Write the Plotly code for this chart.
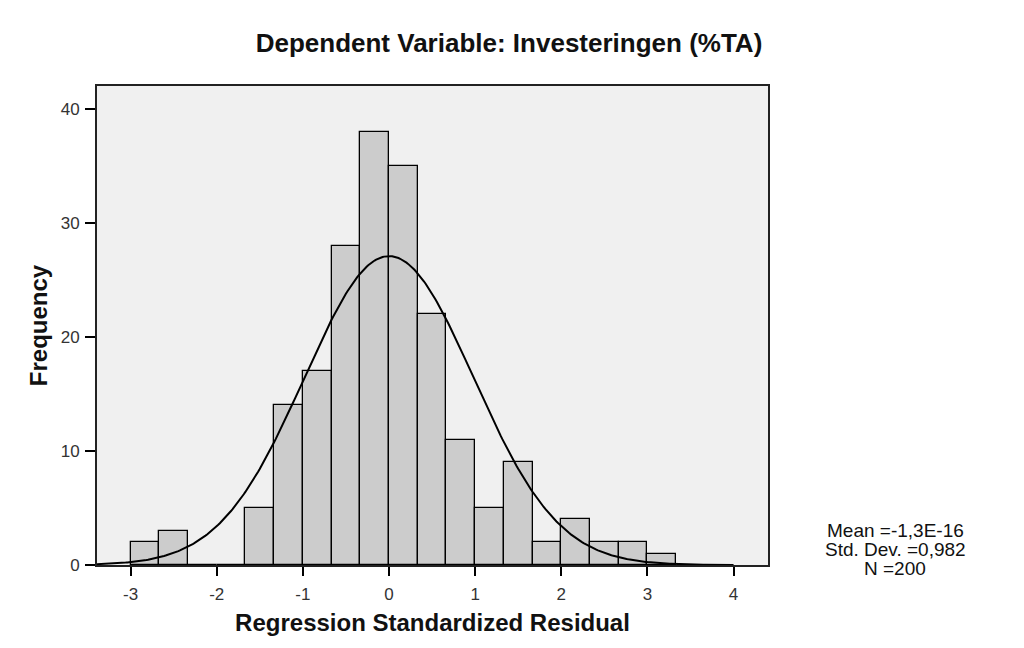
import numpy as np
import plotly.graph_objects as go

# Histogram data (bins of width 1/3 starting at -3)
bin_start = -3.0
bin_width = 1.0 / 3.0
counts = [2, 3, 0, 0, 5, 14, 17, 28, 38, 35, 22, 11, 5, 9, 2, 4, 2, 2, 1]

# Fitted normal curve parameters (from the legend)
mean_val = -1.3e-16
std_dev = 0.982
n_obs = 200

x_ticks = [-3, -2, -1, 0, 1, 2, 3, 4]
y_ticks = [0, 10, 20, 30, 40]
stats_lines = ["Mean =-1,3E-16", "Std. Dev. =0,982", "N =200"]

centers = [bin_start + bin_width * (i + 0.5) for i in range(len(counts))]

xs = np.linspace(-3.39, 4.0, 400)
ys = n_obs * bin_width / (std_dev * np.sqrt(2 * np.pi)) * np.exp(-0.5 * ((xs - mean_val) / std_dev) ** 2)

fig = go.Figure()
fig.add_trace(go.Bar(
    x=centers, y=counts, width=bin_width,
    marker=dict(color="#cccccc", line=dict(color="#000000", width=1.3)),
    showlegend=False, hoverinfo="x+y",
))
fig.add_trace(go.Scatter(
    x=xs, y=ys, mode="lines", line=dict(color="#000000", width=2),
    showlegend=False, hoverinfo="skip",
))

# page body has an 8px default margin; compensate
off = 8
W, H = 1024, 648
pl, pt, pr, pb = 97, 86, 768, 565

font_family = "Liberation Sans, Arial, sans-serif"

annotations = []
for i, line in enumerate(stats_lines):
    annotations.append(dict(
        text=line, xref="paper", yref="paper",
        x=(895 - pl) / (pr - pl), y=(pb - (530 + 19 * i)) / (pb - pt),
        xanchor="center", yanchor="middle", showarrow=False, align="center",
        font=dict(size=19, color="#111111", family=font_family),
    ))

fig.update_layout(
    width=W, height=H,
    margin=dict(l=pl - off, r=W - pr + off, t=pt - off, b=H - pb + off, autoexpand=False),
    paper_bgcolor="white",
    plot_bgcolor="#f0f0f0",
    bargap=0,
    font=dict(family=font_family, color="#000000", size=14),
    title=dict(text="<b>Dependent Variable: Investeringen (%TA)</b>",
               x=(509 - off) / W, xanchor="center", xref="container",
               y=1 - (43 - off) / H, yanchor="middle", yref="container",
               font=dict(size=26, family=font_family, color="#111111")),
    xaxis=dict(range=[-3.39, 4.4], tickvals=x_ticks, ticktext=[str(v) for v in x_ticks],
               ticks="outside", ticklen=9, tickwidth=2, tickcolor="#000000",
               ticklabelstandoff=4,
               showgrid=False, zeroline=False,
               showline=True, linecolor="#222222", linewidth=2, mirror=True,
               tickfont=dict(size=17, color="#333333"),
               title=dict(text="<b>Regression Standardized Residual</b>", standoff=11,
                          font=dict(size=24, color="#111111"))),
    yaxis=dict(range=[0, 42], tickvals=y_ticks, ticktext=[str(v) for v in y_ticks],
               ticks="outside", ticklen=10, tickwidth=2, tickcolor="#000000",
               ticklabelstandoff=2,
               showgrid=False, zeroline=False,
               showline=True, linecolor="#222222", linewidth=2, mirror=True,
               tickfont=dict(size=17, color="#333333"),
               title=dict(text="<b>Frequency</b>", standoff=6,
                          font=dict(size=24, color="#111111"))),
    annotations=annotations,
)

fig.write_html("out.html")
